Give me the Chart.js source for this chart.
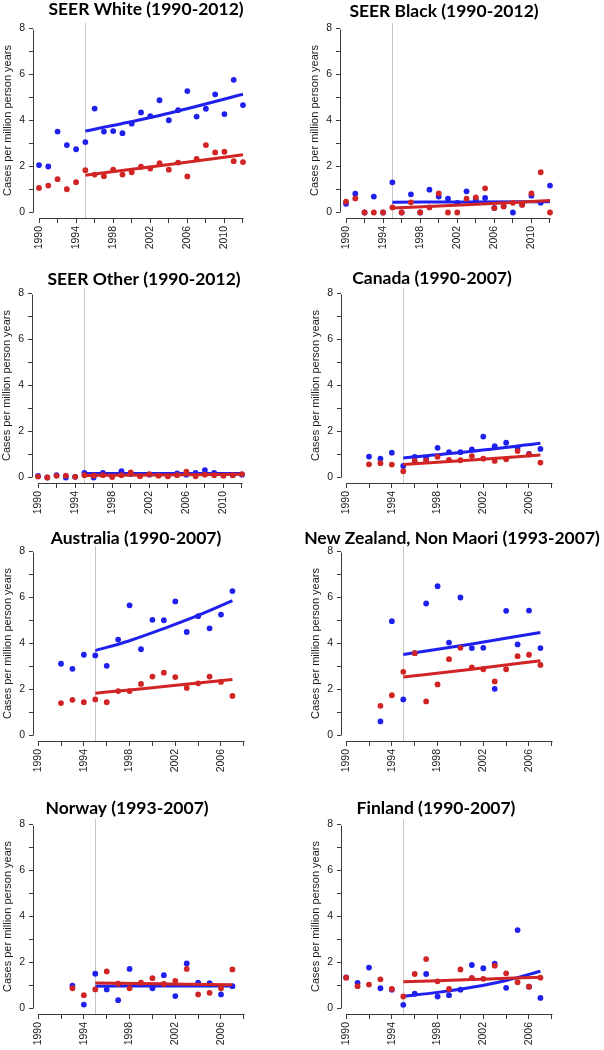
<!DOCTYPE html>
<html><head><meta charset="utf-8">
<script src="https://cdn.jsdelivr.net/npm/chart.js@4.4.1/dist/chart.umd.min.js"></script>
<style>
html,body{margin:0;padding:0;background:#fff;overflow:hidden;width:604px;height:1050px;position:relative}
canvas{position:absolute}
</style></head><body>
<script>
// ---------- DATA ----------
const seerYears = [1990,1991,1992,1993,1994,1995,1996,1997,1998,1999,2000,2001,2002,2003,2004,2005,2006,2007,2008,2009,2010,2011,2012];
const seerTicks = [1990,1992,1994,1996,1998,2000,2002,2004,2006,2008,2010,2012];
const seerTickLabels = [1990,1994,1998,2002,2006,2010];
const shortTicks = [1990,1992,1994,1996,1998,2000,2002,2004,2006,2008];
const shortTickLabels = [1990,1994,1998,2002,2006];
const yTicks = [0,1,2,3,4,5,6,7,8];
const yTickLabels = [0,2,4,6,8];
const cutYear = 1995;

// SEER White
const whiteBlue = [2.06,2.00,3.52,2.93,2.75,3.06,4.52,3.52,3.54,3.45,3.86,4.35,4.19,4.88,4.01,4.45,5.28,4.17,4.51,5.14,4.28,5.77,4.67];
const whiteRed  = [1.07,1.17,1.45,1.01,1.32,1.84,1.65,1.58,1.86,1.65,1.75,1.99,1.91,2.14,1.86,2.17,1.57,2.33,2.93,2.61,2.64,2.23,2.19];
const whiteTrendYears = [1995,2003,2012];
const whiteBlueTrend = [3.54,4.22,5.14];
const whiteRedTrend  = [1.62,2.03,2.51];

// SEER Black
const blackBlue = [0.38,0.82,0.00,0.69,0.00,1.31,0.00,0.79,0.00,0.99,0.69,0.60,0.42,0.92,0.56,0.63,0.20,0.28,0.00,0.35,0.73,0.42,1.17];
const blackRed  = [0.47,0.61,0.00,0.00,0.00,0.22,0.00,0.44,0.00,0.22,0.83,0.00,0.00,0.60,0.66,1.05,0.19,0.26,0.42,0.33,0.83,1.75,0.00];
const blackTrendYears = [1995,2003,2012];
const blackBlueTrend = [0.45,0.46,0.47];
const blackRedTrend  = [0.19,0.34,0.52];

// SEER Other
const otherBlue = [0.07,0.00,0.10,0.00,0.03,0.20,0.00,0.20,0.05,0.27,0.15,0.10,0.12,0.10,0.08,0.18,0.12,0.20,0.32,0.20,0.10,0.10,0.12];
const otherRed  = [0.04,0.00,0.07,0.08,0.03,0.10,0.08,0.10,0.02,0.10,0.22,0.05,0.14,0.08,0.05,0.10,0.25,0.05,0.12,0.10,0.08,0.10,0.15];
const otherTrendYears = [1995,2003,2012];
const otherBlueTrend = [0.17,0.17,0.17];
const otherRedTrend  = [0.09,0.11,0.14];

// Canada
const canadaYears = [1992,1993,1994,1995,1996,1997,1998,1999,2000,2001,2002,2003,2004,2005,2006,2007];
const canadaBlue = [0.91,0.82,1.08,0.50,0.90,0.83,1.29,1.10,1.10,1.22,1.78,1.36,1.51,1.29,1.03,1.24];
const canadaRed  = [0.57,0.62,0.56,0.27,0.72,0.73,0.90,0.76,0.75,0.93,0.82,0.72,0.79,1.15,1.00,0.65];
const canadaTrendYears = [1995,2001,2007];
const canadaBlueTrend = [0.85,1.14,1.49];
const canadaRedTrend  = [0.56,0.76,0.98];

// Australia
const australiaYears = [1992,1993,1994,1995,1996,1997,1998,1999,2000,2001,2002,2003,2004,2005,2006,2007];
const australiaBlue = [3.12,2.90,3.51,3.48,3.03,4.17,5.66,3.75,5.03,5.01,5.83,4.50,5.19,4.66,5.26,6.28];
const australiaRed  = [1.41,1.55,1.45,1.57,1.45,1.93,1.93,2.24,2.56,2.73,2.54,2.07,2.27,2.56,2.33,1.72];
const australiaTrendYears = [1995,1998,2001,2004,2007];
const australiaBlueTrend = [3.69,4.12,4.65,5.22,5.86];
const australiaRedTrend  = [1.84,1.98,2.13,2.28,2.43];

// New Zealand, Non Maori
const nzYears = [1993,1994,1995,1996,1997,1998,1999,2000,2001,2002,2003,2004,2005,2006,2007];
const nzBlue = [0.61,4.97,1.57,3.58,5.74,6.49,4.04,6.00,3.80,3.81,2.03,5.42,3.96,5.43,3.80];
const nzRed  = [1.29,1.75,2.77,3.58,1.48,2.22,3.32,3.81,2.96,2.88,2.35,2.88,3.45,3.51,3.07];
const nzTrendYears = [1995,2001,2007];
const nzBlueTrend = [3.52,3.98,4.48];
const nzRedTrend  = [2.54,2.88,3.25];

// Norway
const norwayYears = [1993,1994,1995,1996,1997,1998,1999,2000,2001,2002,2003,2004,2005,2006,2007];
const norwayBlue = [0.99,0.17,1.51,0.83,0.36,1.72,1.05,0.88,1.45,0.54,1.96,1.12,1.10,0.61,0.97];
const norwayRed  = [0.88,0.58,0.83,1.61,1.08,0.88,1.12,1.32,1.07,1.20,1.72,0.61,0.68,0.88,1.70];
const norwayTrendYears = [1995,2001,2007];
const norwayBlueTrend = [0.97,0.98,0.98];
const norwayRedTrend  = [1.11,1.07,1.03];

// Finland
const finlandYears = [1990,1991,1992,1993,1994,1995,1996,1997,1998,1999,2000,2001,2002,2003,2004,2005,2006,2007];
const finlandBlue = [1.35,1.11,1.78,0.88,0.82,0.16,0.64,1.50,0.52,0.58,0.82,1.89,1.75,1.95,0.90,3.41,0.95,0.46];
const finlandRed  = [1.34,0.97,1.04,1.27,0.85,0.52,1.50,2.15,1.18,0.85,1.70,1.33,1.29,1.86,1.53,1.14,0.95,1.34];
const finlandTrendYears = [1995,1998,2001,2004,2007];
const finlandBlueTrend = [0.53,0.70,0.92,1.22,1.62];
const finlandRedTrend  = [1.16,1.21,1.26,1.31,1.36];

// ---------- PANELS ----------
const panels = [
  {title:'SEER White (1990-2012)', years:seerYears, blue:whiteBlue, red:whiteRed, tY:whiteTrendYears, bT:whiteBlueTrend, rT:whiteRedTrend, long:true},
  {title:'SEER Black (1990-2012)', years:seerYears, blue:blackBlue, red:blackRed, tY:blackTrendYears, bT:blackBlueTrend, rT:blackRedTrend, long:true},
  {title:'SEER Other (1990-2012)', years:seerYears, blue:otherBlue, red:otherRed, tY:otherTrendYears, bT:otherBlueTrend, rT:otherRedTrend, long:true},
  {title:'Canada (1990-2007)', years:canadaYears, blue:canadaBlue, red:canadaRed, tY:canadaTrendYears, bT:canadaBlueTrend, rT:canadaRedTrend, long:false},
  {title:'Australia (1990-2007)', years:australiaYears, blue:australiaBlue, red:australiaRed, tY:australiaTrendYears, bT:australiaBlueTrend, rT:australiaRedTrend, long:false},
  {title:'New Zealand, Non Maori (1993-2007)', years:nzYears, blue:nzBlue, red:nzRed, tY:nzTrendYears, bT:nzBlueTrend, rT:nzRedTrend, long:false},
  {title:'Norway (1993-2007)', years:norwayYears, blue:norwayBlue, red:norwayRed, tY:norwayTrendYears, bT:norwayBlueTrend, rT:norwayRedTrend, long:false},
  {title:'Finland (1990-2007)', years:finlandYears, blue:finlandBlue, red:finlandRed, tY:finlandTrendYears, bT:finlandBlueTrend, rT:finlandRedTrend, long:false}
];

// placement (style only)
const placement = [
  {left:-11, top:0,   titleX:157, titleY:15},
  {left:296, top:0,   titleX:148, titleY:16.5},
  {left:-12, top:265, titleX:156, titleY:20},
  {left:297, top:265, titleX:135, titleY:19},
  {left:-11, top:523, titleX:147, titleY:21},
  {left:297, top:523, titleX:155, titleY:20.5},
  {left:-11, top:796, titleX:138, titleY:17.5},
  {left:297, top:796, titleX:139, titleY:17.5}
];

const BLUE = '#2020ee';
const RED = '#d12424';
const TXT = '#1a1a1a';
const AX = '#3a3a3a';
const SANS = "'Liberation Sans', Arial, sans-serif";

const rAxes = {
  id:'rAxes',
  beforeDatasetsDraw(chart, args, o) {
    const {ctx, chartArea, scales:{x}} = chart;
    ctx.save();
    ctx.strokeStyle = '#c6c6c6'; ctx.lineWidth = 1;
    const cx = Math.round(x.getPixelForValue(o.cut)) + 0.5;
    ctx.beginPath(); ctx.moveTo(cx, chartArea.top); ctx.lineTo(cx, chartArea.bottom); ctx.stroke();
    ctx.restore();
  },
  afterDraw(chart, args, o) {
    const {ctx, chartArea, scales:{x, y}} = chart;
    ctx.save();
    ctx.strokeStyle = AX; ctx.lineWidth = 1;
    const xt = x.ticks, yt = y.ticks;
    const ax = Math.round(chartArea.left) + 0.5;
    ctx.beginPath();
    ctx.moveTo(ax, Math.round(y.getPixelForValue(yt[0].value)) + 0.5);
    ctx.lineTo(ax, Math.round(y.getPixelForValue(yt[yt.length-1].value)) + 0.5);
    const ay = Math.round(chartArea.bottom) + 0.5;
    ctx.moveTo(Math.round(x.getPixelForValue(xt[0].value)) + 0.5, ay);
    ctx.lineTo(Math.round(x.getPixelForValue(xt[xt.length-1].value)) + 0.5, ay);
    ctx.stroke();
    ctx.fillStyle = '#000';
    ctx.font = "bold 17.5px Lato, 'Open Sans', sans-serif";
    ctx.textAlign = 'center'; ctx.textBaseline = 'alphabetic';
    ctx.fillText(o.title, o.titleX, o.titleY);
    ctx.restore();
  }
};

function pts(xs, ys) { return xs.map((v, i) => ({x:v, y:ys[i]})); }

panels.forEach((p, i) => {
  const pl = placement[i];
  const cv = document.createElement('canvas');
  cv.width = 310; cv.height = 255;
  cv.style.left = pl.left + 'px'; cv.style.top = pl.top + 'px';
  cv.style.width = '310px'; cv.style.height = '255px';
  document.body.appendChild(cv);
  const xTicks = p.long ? seerTicks : shortTicks;
  const xLabels = p.long ? seerTickLabels : shortTickLabels;
  const xMin = p.long ? 1989.35 : 1989.55;
  const xMax = p.long ? 2012.65 : 2008.45;
  const lineDs = (data, color) => ({type:'line', data, borderColor:color, borderWidth:3, pointRadius:0, fill:false, cubicInterpolationMode:'monotone', borderCapStyle:'butt'});
  const ptDs = (data, color) => ({type:'scatter', data, backgroundColor:color, borderWidth:0, pointRadius:2.9, pointHoverRadius:2.9});
  new Chart(cv, {
    type:'scatter',
    data:{datasets:[
      lineDs(pts(p.tY, p.rT), RED),
      ptDs(pts(p.years, p.red), RED),
      lineDs(pts(p.tY, p.bT), BLUE),
      ptDs(pts(p.years, p.blue), BLUE)
    ]},
    options:{
      responsive:false, animation:false, devicePixelRatio:1,
      layout:{padding:{top:23, right:50, bottom:0, left:0}},
      plugins:{
        legend:{display:false}, tooltip:{enabled:false}, title:{display:false},
        rAxes:{cut:cutYear, title:p.title, titleX:pl.titleX, titleY:pl.titleY}
      },
      scales:{
        x:{
          type:'linear', min:xMin, max:xMax, bounds:'data',
          afterBuildTicks:s => { s.ticks = xTicks.map(v => ({value:v})); },
          afterFit:s => { s.height = 37; },
          ticks:{autoSkip:false, minRotation:90, maxRotation:90, padding:3, color:TXT,
                 font:{family:SANS, size:10.5},
                 callback:v => xLabels.includes(v) ? String(v) : ''},
          grid:{display:true, drawOnChartArea:false, drawTicks:true, tickLength:5, color:AX, lineWidth:1},
          border:{display:false}
        },
        y:{
          type:'linear', min:-0.24, max:8.24, bounds:'data',
          afterBuildTicks:s => { s.ticks = yTicks.map(v => ({value:v})); },
          afterFit:s => { s.width = 44; },
          ticks:{autoSkip:false, padding:4, color:TXT, font:{family:SANS, size:10.5},
                 callback:v => yTickLabels.includes(v) ? String(v) : ''},
          grid:{display:true, drawOnChartArea:false, drawTicks:true, tickLength:4, color:AX, lineWidth:1},
          border:{display:false},
          title:{display:true, text:'Cases per million person years', color:TXT,
                 font:{family:SANS, size:11}, padding:{top:12.4, bottom:0}}
        }
      }
    },
    plugins:[rAxes]
  });
});
</script>
</body></html>
